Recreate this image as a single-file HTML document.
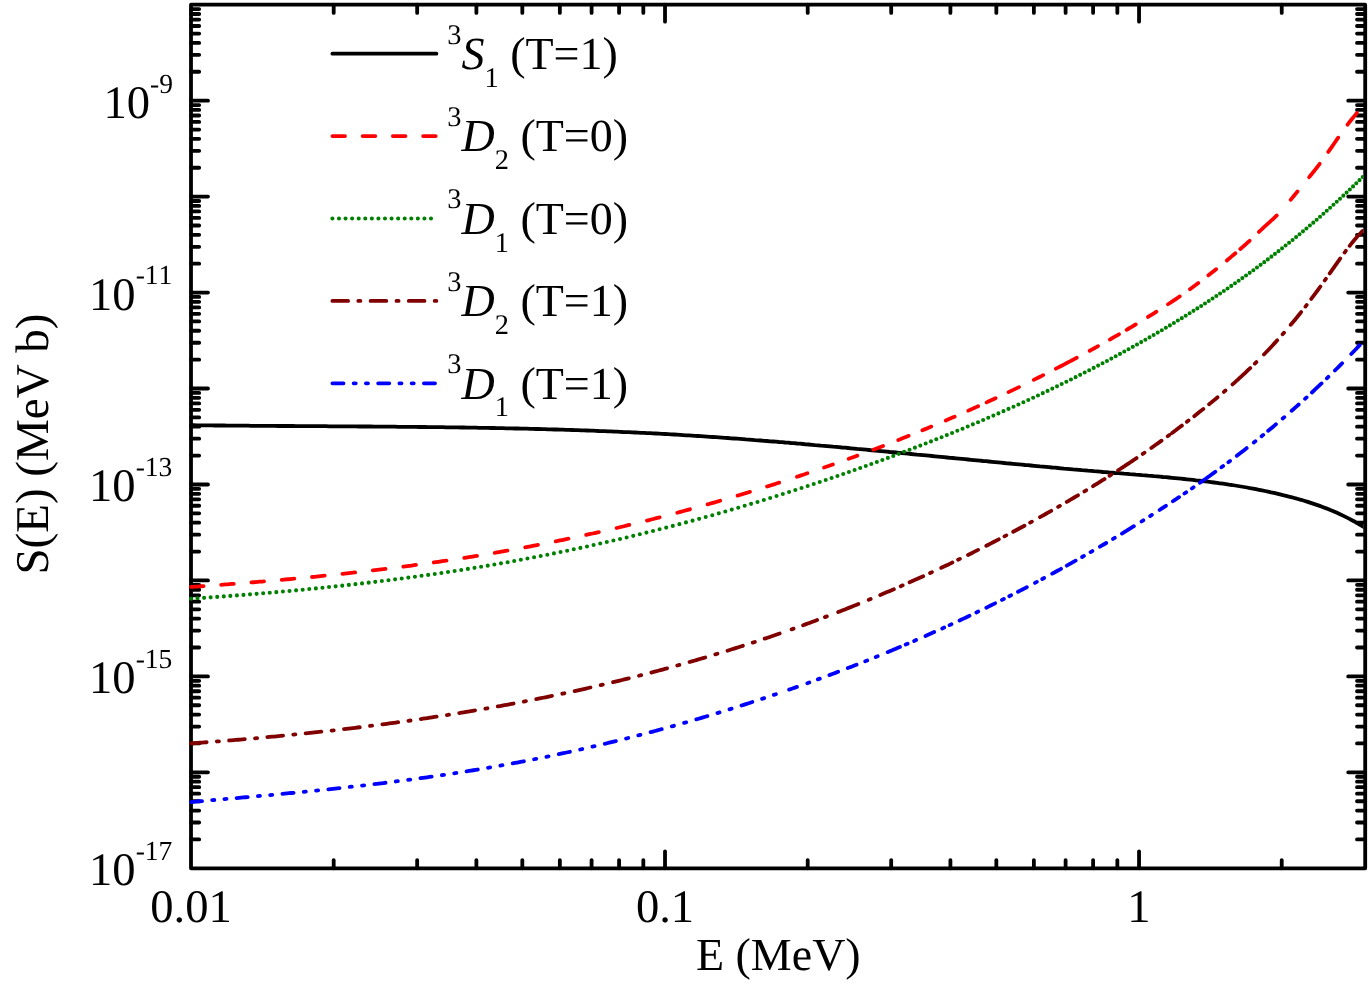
<!DOCTYPE html>
<html><head><meta charset="utf-8"><title>S(E)</title>
<style>html,body{margin:0;padding:0;background:#fff;}svg{display:block;}text{font-family:"Liberation Serif",serif;fill:#000;font-kerning:none;font-variant-ligatures:none;text-rendering:geometricPrecision;}</style></head><body>
<svg width="1369" height="984" viewBox="0 0 1369 984" style="will-change:transform">
<rect x="0" y="0" width="1369" height="984" fill="#ffffff"/>
<path d="M191.00 839.41h8.20M1365.20 839.41h-8.20M191.00 822.52h8.20M1365.20 822.52h-8.20M191.00 810.53h8.20M1365.20 810.53h-8.20M191.00 801.23h8.20M1365.20 801.23h-8.20M191.00 793.63h8.20M1365.20 793.63h-8.20M191.00 787.21h8.20M1365.20 787.21h-8.20M191.00 781.64h8.20M1365.20 781.64h-8.20M191.00 776.74h8.20M1365.20 776.74h-8.20M191.00 772.34h17.00M1365.20 772.34h-17.00M191.00 743.46h8.20M1365.20 743.46h-8.20M191.00 726.56h8.20M1365.20 726.56h-8.20M191.00 714.57h8.20M1365.20 714.57h-8.20M191.00 705.27h8.20M1365.20 705.27h-8.20M191.00 697.68h8.20M1365.20 697.68h-8.20M191.00 691.25h8.20M1365.20 691.25h-8.20M191.00 685.69h8.20M1365.20 685.69h-8.20M191.00 680.78h8.20M1365.20 680.78h-8.20M191.00 676.39h17.00M1365.20 676.39h-17.00M191.00 647.50h8.20M1365.20 647.50h-8.20M191.00 630.61h8.20M1365.20 630.61h-8.20M191.00 618.62h8.20M1365.20 618.62h-8.20M191.00 609.32h8.20M1365.20 609.32h-8.20M191.00 601.72h8.20M1365.20 601.72h-8.20M191.00 595.30h8.20M1365.20 595.30h-8.20M191.00 589.73h8.20M1365.20 589.73h-8.20M191.00 584.82h8.20M1365.20 584.82h-8.20M191.00 580.43h17.00M1365.20 580.43h-17.00M191.00 551.55h8.20M1365.20 551.55h-8.20M191.00 534.65h8.20M1365.20 534.65h-8.20M191.00 522.66h8.20M1365.20 522.66h-8.20M191.00 513.36h8.20M1365.20 513.36h-8.20M191.00 505.77h8.20M1365.20 505.77h-8.20M191.00 499.34h8.20M1365.20 499.34h-8.20M191.00 493.78h8.20M1365.20 493.78h-8.20M191.00 488.87h8.20M1365.20 488.87h-8.20M191.00 484.48h17.00M1365.20 484.48h-17.00M191.00 455.59h8.20M1365.20 455.59h-8.20M191.00 438.70h8.20M1365.20 438.70h-8.20M191.00 426.71h8.20M1365.20 426.71h-8.20M191.00 417.41h8.20M1365.20 417.41h-8.20M191.00 409.81h8.20M1365.20 409.81h-8.20M191.00 403.39h8.20M1365.20 403.39h-8.20M191.00 397.82h8.20M1365.20 397.82h-8.20M191.00 392.91h8.20M1365.20 392.91h-8.20M191.00 388.52h17.00M1365.20 388.52h-17.00M191.00 359.64h8.20M1365.20 359.64h-8.20M191.00 342.74h8.20M1365.20 342.74h-8.20M191.00 330.75h8.20M1365.20 330.75h-8.20M191.00 321.45h8.20M1365.20 321.45h-8.20M191.00 313.85h8.20M1365.20 313.85h-8.20M191.00 307.43h8.20M1365.20 307.43h-8.20M191.00 301.87h8.20M1365.20 301.87h-8.20M191.00 296.96h8.20M1365.20 296.96h-8.20M191.00 292.57h17.00M1365.20 292.57h-17.00M191.00 263.68h8.20M1365.20 263.68h-8.20M191.00 246.78h8.20M1365.20 246.78h-8.20M191.00 234.80h8.20M1365.20 234.80h-8.20M191.00 225.50h8.20M1365.20 225.50h-8.20M191.00 217.90h8.20M1365.20 217.90h-8.20M191.00 211.47h8.20M1365.20 211.47h-8.20M191.00 205.91h8.20M1365.20 205.91h-8.20M191.00 201.00h8.20M1365.20 201.00h-8.20M191.00 196.61h17.00M1365.20 196.61h-17.00M191.00 167.73h8.20M1365.20 167.73h-8.20M191.00 150.83h8.20M1365.20 150.83h-8.20M191.00 138.84h8.20M1365.20 138.84h-8.20M191.00 129.54h8.20M1365.20 129.54h-8.20M191.00 121.94h8.20M1365.20 121.94h-8.20M191.00 115.52h8.20M1365.20 115.52h-8.20M191.00 109.95h8.20M1365.20 109.95h-8.20M191.00 105.05h8.20M1365.20 105.05h-8.20M191.00 100.66h17.00M1365.20 100.66h-17.00M191.00 71.77h8.20M1365.20 71.77h-8.20M191.00 54.87h8.20M1365.20 54.87h-8.20M191.00 42.88h8.20M1365.20 42.88h-8.20M191.00 33.59h8.20M1365.20 33.59h-8.20M191.00 25.99h8.20M1365.20 25.99h-8.20M191.00 19.56h8.20M1365.20 19.56h-8.20M191.00 14.00h8.20M1365.20 14.00h-8.20M191.00 9.09h8.20M1365.20 9.09h-8.20M333.69 868.30v-8.20M333.69 4.70v8.20M417.16 868.30v-8.20M417.16 4.70v8.20M476.39 868.30v-8.20M476.39 4.70v8.20M522.32 868.30v-8.20M522.32 4.70v8.20M559.86 868.30v-8.20M559.86 4.70v8.20M591.59 868.30v-8.20M591.59 4.70v8.20M619.08 868.30v-8.20M619.08 4.70v8.20M643.33 868.30v-8.20M643.33 4.70v8.20M665.02 868.30v-17.00M665.02 4.70v17.00M807.71 868.30v-8.20M807.71 4.70v8.20M891.18 868.30v-8.20M891.18 4.70v8.20M950.41 868.30v-8.20M950.41 4.70v8.20M996.34 868.30v-8.20M996.34 4.70v8.20M1033.88 868.30v-8.20M1033.88 4.70v8.20M1065.61 868.30v-8.20M1065.61 4.70v8.20M1093.10 868.30v-8.20M1093.10 4.70v8.20M1117.35 868.30v-8.20M1117.35 4.70v8.20M1139.04 868.30v-17.00M1139.04 4.70v17.00M1281.73 868.30v-8.20M1281.73 4.70v8.20" fill="none" stroke="#000" stroke-width="3.8" stroke-linecap="round"/>
<rect x="191.00" y="4.70" width="1174.20" height="863.60" fill="none" stroke="#000" stroke-width="3.8" stroke-linejoin="round"/>
<clipPath id="c"><rect x="189.00" y="4.70" width="1174.40" height="863.60"/></clipPath>
<g clip-path="url(#c)" fill="none" stroke-linecap="round" stroke-linejoin="round">
<path d="M191.0 425.2 L194.0 425.2 L197.0 425.3 L200.0 425.3 L203.0 425.3 L206.0 425.4 L209.0 425.4 L212.0 425.4 L215.0 425.5 L218.0 425.5 L221.0 425.5 L224.0 425.5 L227.0 425.6 L230.0 425.6 L233.0 425.6 L236.0 425.6 L239.0 425.7 L242.0 425.7 L245.0 425.7 L248.0 425.7 L251.0 425.8 L254.0 425.8 L257.0 425.8 L260.0 425.8 L263.0 425.9 L266.0 425.9 L269.0 425.9 L272.0 425.9 L275.0 425.9 L278.0 426.0 L281.0 426.0 L284.0 426.0 L287.0 426.0 L290.0 426.0 L293.0 426.0 L296.0 426.1 L299.0 426.1 L302.0 426.1 L305.0 426.1 L308.0 426.1 L311.0 426.2 L314.0 426.2 L317.0 426.2 L320.0 426.2 L323.0 426.2 L326.0 426.2 L329.0 426.3 L332.0 426.3 L335.0 426.3 L338.0 426.3 L341.0 426.3 L344.0 426.4 L347.0 426.4 L350.0 426.4 L353.0 426.4 L356.0 426.4 L359.0 426.5 L362.0 426.5 L365.0 426.5 L368.0 426.5 L371.0 426.5 L374.0 426.6 L377.0 426.6 L380.0 426.6 L383.0 426.6 L386.0 426.7 L389.0 426.7 L392.0 426.7 L395.0 426.7 L398.0 426.8 L401.0 426.8 L404.0 426.8 L407.0 426.8 L410.0 426.9 L413.0 426.9 L416.0 426.9 L419.0 427.0 L422.0 427.0 L425.0 427.0 L428.0 427.1 L431.0 427.1 L434.0 427.1 L437.0 427.2 L440.0 427.2 L443.0 427.2 L446.0 427.3 L449.0 427.3 L452.0 427.4 L455.0 427.4 L458.0 427.4 L461.0 427.5 L464.0 427.5 L467.0 427.6 L470.0 427.6 L473.0 427.7 L476.0 427.7 L479.0 427.8 L482.0 427.8 L485.0 427.9 L488.0 427.9 L491.0 428.0 L494.0 428.0 L497.0 428.1 L500.0 428.1 L503.0 428.2 L506.0 428.3 L509.0 428.3 L512.0 428.4 L515.0 428.5 L518.0 428.5 L521.0 428.6 L524.0 428.7 L527.0 428.7 L530.0 428.8 L533.0 428.9 L536.0 429.0 L539.0 429.0 L542.0 429.1 L545.0 429.2 L548.0 429.3 L551.0 429.4 L554.0 429.5 L557.0 429.5 L560.0 429.6 L563.0 429.7 L566.0 429.8 L569.0 429.9 L572.0 430.0 L575.0 430.1 L578.0 430.2 L581.0 430.3 L584.0 430.4 L587.0 430.5 L590.0 430.6 L593.0 430.7 L596.0 430.8 L599.0 431.0 L602.0 431.1 L605.0 431.2 L608.0 431.3 L611.0 431.4 L614.0 431.6 L617.0 431.7 L620.0 431.8 L623.0 432.0 L626.0 432.1 L629.0 432.2 L632.0 432.4 L635.0 432.5 L638.0 432.6 L641.0 432.8 L644.0 432.9 L647.0 433.1 L650.0 433.2 L653.0 433.4 L656.0 433.5 L659.0 433.7 L662.0 433.9 L665.0 434.0 L668.0 434.2 L671.0 434.4 L674.0 434.5 L677.0 434.7 L680.0 434.9 L683.0 435.1 L686.0 435.3 L689.0 435.4 L692.0 435.6 L695.0 435.8 L698.0 436.0 L701.0 436.2 L704.0 436.4 L707.0 436.6 L710.0 436.8 L713.0 437.0 L716.0 437.2 L719.0 437.4 L722.0 437.6 L725.0 437.8 L728.0 438.0 L731.0 438.3 L734.0 438.5 L737.0 438.7 L740.0 438.9 L743.0 439.1 L746.0 439.4 L749.0 439.6 L752.0 439.8 L755.0 440.1 L758.0 440.3 L761.0 440.5 L764.0 440.8 L767.0 441.0 L770.0 441.3 L773.0 441.5 L776.0 441.7 L779.0 442.0 L782.0 442.2 L785.0 442.5 L788.0 442.7 L791.0 443.0 L794.0 443.2 L797.0 443.5 L800.0 443.7 L803.0 444.0 L806.0 444.3 L809.0 444.5 L812.0 444.8 L815.0 445.1 L818.0 445.3 L821.0 445.6 L824.0 445.8 L827.0 446.1 L830.0 446.4 L833.0 446.7 L836.0 446.9 L839.0 447.2 L842.0 447.5 L845.0 447.7 L848.0 448.0 L851.0 448.3 L854.0 448.6 L857.0 448.9 L860.0 449.1 L863.0 449.4 L866.0 449.7 L869.0 450.0 L872.0 450.3 L875.0 450.5 L878.0 450.8 L881.0 451.1 L884.0 451.4 L887.0 451.7 L890.0 452.0 L893.0 452.2 L896.0 452.5 L899.0 452.8 L902.0 453.1 L905.0 453.4 L908.0 453.7 L911.0 454.0 L914.0 454.3 L917.0 454.6 L920.0 454.8 L923.0 455.1 L926.0 455.4 L929.0 455.7 L932.0 456.0 L935.0 456.3 L938.0 456.6 L941.0 456.9 L944.0 457.2 L947.0 457.5 L950.0 457.8 L953.0 458.0 L956.0 458.3 L959.0 458.6 L962.0 458.9 L965.0 459.2 L968.0 459.5 L971.0 459.8 L974.0 460.1 L977.0 460.4 L980.0 460.7 L983.0 461.0 L986.0 461.2 L989.0 461.5 L992.0 461.8 L995.0 462.1 L998.0 462.4 L1001.0 462.7 L1004.0 463.0 L1007.0 463.3 L1010.0 463.5 L1013.0 463.8 L1016.0 464.1 L1019.0 464.4 L1022.0 464.7 L1025.0 465.0 L1028.0 465.2 L1031.0 465.5 L1034.0 465.8 L1037.0 466.1 L1040.0 466.4 L1043.0 466.6 L1046.0 466.9 L1049.0 467.2 L1052.0 467.5 L1055.0 467.7 L1058.0 468.0 L1061.0 468.3 L1064.0 468.6 L1067.0 468.8 L1070.0 469.1 L1073.0 469.4 L1076.0 469.6 L1079.0 469.9 L1082.0 470.2 L1085.0 470.4 L1088.0 470.7 L1091.0 470.9 L1094.0 471.2 L1097.0 471.4 L1100.0 471.7 L1103.0 472.0 L1106.0 472.2 L1109.0 472.5 L1112.0 472.7 L1115.0 473.0 L1118.0 473.2 L1121.0 473.4 L1124.0 473.7 L1127.0 473.9 L1130.0 474.2 L1133.0 474.4 L1136.0 474.7 L1139.0 474.9 L1142.0 475.2 L1145.0 475.4 L1148.0 475.7 L1151.0 475.9 L1154.0 476.2 L1157.0 476.4 L1160.0 476.7 L1163.0 477.0 L1166.0 477.2 L1169.0 477.5 L1172.0 477.8 L1175.0 478.1 L1178.0 478.4 L1181.0 478.7 L1184.0 479.0 L1187.0 479.3 L1190.0 479.6 L1193.0 479.9 L1196.0 480.3 L1199.0 480.6 L1202.0 481.0 L1205.0 481.3 L1208.0 481.7 L1211.0 482.1 L1214.0 482.5 L1217.0 482.9 L1220.0 483.3 L1223.0 483.7 L1226.0 484.1 L1229.0 484.6 L1232.0 485.0 L1235.0 485.5 L1238.0 486.0 L1241.0 486.5 L1244.0 487.0 L1247.0 487.5 L1250.0 488.1 L1253.0 488.6 L1256.0 489.2 L1259.0 489.8 L1262.0 490.4 L1265.0 491.0 L1268.0 491.6 L1271.0 492.3 L1274.0 492.9 L1277.0 493.6 L1280.0 494.3 L1283.0 495.1 L1286.0 495.8 L1289.0 496.6 L1292.0 497.3 L1295.0 498.2 L1298.0 499.0 L1301.0 499.8 L1304.0 500.7 L1307.0 501.6 L1310.0 502.6 L1313.0 503.6 L1316.0 504.6 L1319.0 505.6 L1322.0 506.7 L1325.0 507.9 L1328.0 509.0 L1331.0 510.3 L1334.0 511.5 L1337.0 512.8 L1340.0 514.2 L1343.0 515.6 L1346.0 517.1 L1349.0 518.6 L1352.0 520.2 L1355.0 521.8 L1358.0 523.5 L1361.0 525.3 L1364.0 527.1 L1365.0 527.7" stroke="#000000" stroke-width="3.8"/>
<path d="M191.00 586.97L193.09 586.82L195.19 586.68L197.28 586.53L199.38 586.38L201.47 586.23L203.57 586.08M221.18 584.78L223.28 584.62L225.38 584.47L227.48 584.31L229.57 584.14L231.67 583.98L233.77 583.82M251.41 582.41L253.52 582.24L255.62 582.07L257.72 581.89L259.83 581.72L261.93 581.54L264.03 581.36M281.71 579.83L283.81 579.64L285.92 579.45L288.02 579.26L290.13 579.07L292.24 578.87L294.34 578.68M312.05 576.99L314.16 576.79L316.27 576.58L318.38 576.37L320.48 576.16L322.59 575.94L324.70 575.73M342.43 573.87L344.54 573.65L346.66 573.42L348.77 573.18L350.88 572.95L352.99 572.72L355.11 572.48M372.86 570.43L374.97 570.18L377.09 569.93L379.20 569.68L381.31 569.42L383.43 569.16L385.54 568.90M403.31 566.64L405.43 566.37L407.54 566.09L409.66 565.81L411.78 565.52L413.89 565.24L416.01 564.95M433.79 562.47L435.91 562.16L438.02 561.85L440.14 561.54L442.26 561.23L444.37 560.92L446.49 560.60M464.28 557.87L466.40 557.53L468.51 557.20L470.63 556.86L472.75 556.51L474.87 556.17L476.98 555.82M494.77 552.82L496.89 552.46L499.01 552.09L501.12 551.72L503.24 551.34L505.36 550.96L507.47 550.59M525.25 547.32L527.37 546.92L529.49 546.52L531.61 546.11L533.72 545.71L535.84 545.30L537.95 544.89M555.73 541.35L557.84 540.91L559.96 540.48L562.07 540.04L564.19 539.60L566.30 539.16L568.42 538.72M586.18 534.90L588.29 534.44L590.41 533.97L592.52 533.50L594.63 533.03L596.74 532.55L598.86 532.08M616.60 527.99L618.71 527.49L620.82 526.99L622.93 526.49L625.04 525.98L627.15 525.47L629.26 524.96M646.98 520.60L649.09 520.06L651.20 519.53L653.31 518.99L655.41 518.46L657.52 517.92L659.63 517.37M677.32 512.73L679.42 512.16L681.53 511.59L683.63 511.02L685.74 510.45L687.84 509.88L689.94 509.30M707.60 504.38L709.69 503.78L711.79 503.18L713.88 502.58L715.97 501.98L718.06 501.37L720.15 500.77M737.59 495.61L739.65 494.99L741.71 494.37L743.76 493.75L745.82 493.12L747.88 492.49L749.93 491.86M767.07 486.52L769.09 485.88L771.11 485.23L773.13 484.59L775.15 483.94L777.17 483.29L779.19 482.64M797.00 476.78L799.08 476.09L801.16 475.39L803.24 474.69L805.32 473.99L807.40 473.29M824.09 467.54L826.27 466.78L828.45 466.01L830.63 465.25L832.81 464.48M848.69 458.78L850.85 458.00L853.00 457.21L855.16 456.42L857.32 455.62M873.28 449.66L875.23 448.92L877.18 448.18L879.13 447.43L881.08 446.69L883.03 445.94M898.27 439.99L900.34 439.17L902.42 438.35L904.49 437.52L906.57 436.69L908.64 435.86M922.36 430.28L924.58 429.37L926.80 428.45L929.03 427.53L931.25 426.60M945.75 420.47L947.98 419.51L950.21 418.56L952.43 417.59L954.66 416.63M968.34 410.62L970.29 409.75L972.23 408.88L974.18 408.01L976.12 407.13L978.07 406.26M986.63 402.36L988.87 401.33L991.11 400.30L993.34 399.26L995.58 398.22M1008.52 392.14L1010.61 391.14L1012.71 390.13L1014.80 389.13L1016.90 388.12L1018.99 387.11M1033.80 379.85L1035.69 378.91L1037.57 377.97L1039.45 377.03L1041.33 376.09L1043.20 375.14M1055.89 368.68L1057.98 367.60L1060.07 366.52L1062.16 365.44L1064.24 364.35L1066.33 363.26L1068.41 362.17L1070.49 361.07L1072.57 359.97L1074.65 358.87L1076.72 357.76M1089.67 350.78L1091.76 349.63L1093.86 348.48L1095.95 347.33L1098.04 346.17M1109.85 339.54L1111.68 338.51L1113.50 337.47L1115.32 336.42L1117.14 335.37L1118.96 334.32M1126.64 329.84L1128.47 328.76L1130.30 327.68L1132.12 326.59L1133.95 325.50L1135.77 324.41M1148.02 316.95L1150.12 315.64L1152.21 314.34L1154.30 313.03L1156.39 311.72M1167.99 304.28L1169.96 302.99L1171.93 301.69L1173.89 300.38L1175.84 299.06L1177.79 297.74L1179.74 296.41M1189.94 289.20L1191.62 287.99L1193.29 286.77L1194.96 285.54L1196.62 284.31L1198.28 283.07M1208.40 275.34L1210.34 273.82L1212.27 272.30L1214.20 270.77L1216.12 269.24M1226.86 260.46L1228.57 259.03L1230.27 257.61L1231.97 256.17L1233.67 254.73L1235.36 253.29M1240.34 249.00L1242.20 247.38L1244.06 245.75L1245.92 244.11L1247.76 242.46L1249.60 240.80M1258.96 231.94L1260.69 230.24L1262.45 228.57L1264.23 226.92L1266.03 225.29L1267.84 223.68L1269.65 222.06L1271.45 220.43L1273.24 218.80L1275.01 217.14L1276.76 215.45M1290.71 199.80L1292.07 198.14L1293.43 196.47L1294.79 194.80L1296.14 193.13L1297.50 191.46M1309.20 177.18L1310.72 175.30L1312.24 173.42L1313.75 171.52L1315.24 169.62L1316.73 167.72L1318.20 165.80L1319.66 163.87M1328.29 151.91L1329.71 149.88L1331.13 147.84L1332.55 145.80L1333.96 143.75L1335.37 141.71L1336.79 139.67L1338.21 137.63M1347.54 124.67L1349.04 122.69L1350.57 120.72L1352.11 118.77L1353.69 116.85L1355.29 114.94L1356.93 113.07" stroke="#ff0000" stroke-width="3.8"/>
<path d="M191.00 598.74h0.01M197.55 598.29h0.01M204.10 597.84h0.01M210.65 597.37h0.01M217.21 596.90h0.01M223.77 596.41h0.01M230.33 595.92h0.01M236.89 595.41h0.01M243.46 594.89h0.01M250.03 594.37h0.01M256.60 593.83h0.01M263.17 593.27h0.01M269.75 592.71h0.01M276.33 592.13h0.01M282.91 591.54h0.01M289.49 590.94h0.01M296.07 590.33h0.01M302.66 589.70h0.01M309.25 589.06h0.01M315.84 588.40h0.01M322.44 587.73h0.01M329.03 587.05h0.01M335.63 586.35h0.01M342.23 585.64h0.01M348.83 584.91h0.01M355.43 584.16h0.01M362.04 583.40h0.01M368.64 582.63h0.01M375.25 581.83h0.01M381.86 581.03h0.01M388.47 580.20h0.01M395.08 579.36h0.01M401.69 578.50h0.01M408.31 577.62h0.01M414.92 576.73h0.01M421.54 575.81h0.01M428.15 574.88h0.01M434.77 573.93h0.01M441.39 572.97h0.01M448.01 571.98h0.01M454.63 570.97h0.01M461.25 569.95h0.01M467.87 568.90h0.01M474.49 567.84h0.01M481.11 566.75h0.01M487.73 565.64h0.01M494.35 564.52h0.01M500.97 563.37h0.01M507.59 562.20h0.01M514.21 561.01h0.01M520.83 559.80h0.01M527.45 558.56h0.01M534.07 557.31h0.01M540.69 556.03h0.01M547.30 554.73h0.01M553.92 553.41h0.01M560.53 552.06h0.01M567.15 550.70h0.01M573.76 549.31h0.01M580.37 547.90h0.01M586.98 546.47h0.01M593.59 545.02h0.01M600.20 543.54h0.01M606.81 542.05h0.01M613.41 540.53h0.01M620.02 538.99h0.01M626.62 537.43h0.01M633.22 535.85h0.01M639.82 534.24h0.01M646.42 532.62h0.01M653.01 530.97h0.01M659.60 529.30h0.01M666.20 527.61h0.01M672.79 525.90h0.01M679.37 524.16h0.01M685.96 522.41h0.01M692.54 520.63h0.01M699.12 518.83h0.01M705.70 517.02h0.01M712.26 515.18h0.01M718.79 513.33h0.01M725.30 511.47h0.01M731.78 509.59h0.01M738.24 507.69h0.01M744.68 505.79h0.01M751.09 503.86h0.01M757.48 501.93h0.01M763.85 499.98h0.01M770.19 498.02h0.01M776.51 496.04h0.01M782.81 494.05h0.01M789.08 492.05h0.01M795.33 490.04h0.01M801.52 488.03h0.01M807.66 486.01h0.01M813.73 484.00h0.01M819.74 481.99h0.01M825.70 479.97h0.01M831.59 477.97h0.01M837.43 475.96h0.01M843.21 473.95h0.01M848.93 471.95h0.01M854.60 469.95h0.01M860.22 467.96h0.01M865.78 465.97h0.01M871.32 463.97h0.01M876.84 461.96h0.01M882.34 459.94h0.01M887.82 457.91h0.01M893.28 455.88h0.01M898.72 453.84h0.01M904.15 451.79h0.01M909.55 449.73h0.01M914.93 447.66h0.01M920.30 445.59h0.01M925.65 443.50h0.01M930.97 441.41h0.01M936.28 439.31h0.01M941.57 437.20h0.01M946.83 435.09h0.01M952.08 432.96h0.01M957.31 430.82h0.01M962.52 428.68h0.01M967.70 426.52h0.01M972.87 424.35h0.01M978.02 422.18h0.01M983.15 419.99h0.01M988.26 417.80h0.01M993.35 415.60h0.01M998.42 413.38h0.01M1003.47 411.16h0.01M1008.49 408.92h0.01M1013.48 406.69h0.01M1018.44 404.45h0.01M1023.36 402.20h0.01M1028.26 399.95h0.01M1033.13 397.69h0.01M1037.96 395.43h0.01M1042.77 393.16h0.01M1047.55 390.89h0.01M1052.29 388.61h0.01M1057.01 386.33h0.01M1061.69 384.04h0.01M1066.35 381.75h0.01M1070.97 379.46h0.01M1075.57 377.16h0.01M1080.14 374.85h0.01M1084.68 372.54h0.01M1089.19 370.23h0.01M1093.67 367.91h0.01M1098.12 365.59h0.01M1102.54 363.27h0.01M1106.94 360.93h0.01M1111.31 358.60h0.01M1115.66 356.26h0.01M1119.98 353.91h0.01M1124.27 351.56h0.01M1128.54 349.20h0.01M1132.78 346.84h0.01M1137.00 344.48h0.01M1141.20 342.11h0.01M1145.37 339.73h0.01M1149.51 337.35h0.01M1153.63 334.97h0.01M1157.73 332.58h0.01M1161.80 330.19h0.01M1165.85 327.79h0.01M1169.87 325.39h0.01M1173.87 322.98h0.01M1177.84 320.56h0.01M1181.79 318.14h0.01M1185.71 315.72h0.01M1189.61 313.29h0.01M1193.48 310.85h0.01M1197.33 308.41h0.01M1201.16 305.96h0.01M1204.96 303.51h0.01M1208.75 301.04h0.01M1212.54 298.55h0.01M1216.31 296.05h0.01M1220.06 293.53h0.01M1223.81 291.00h0.01M1227.55 288.45h0.01M1231.27 285.89h0.01M1234.98 283.31h0.01M1238.68 280.72h0.01M1242.36 278.11h0.01M1246.04 275.49h0.01M1249.70 272.85h0.01M1253.35 270.19h0.01M1256.98 267.52h0.01M1260.60 264.83h0.01M1264.21 262.13h0.01M1267.80 259.41h0.01M1271.38 256.67h0.01M1274.95 253.92h0.01M1278.51 251.16h0.01M1282.05 248.37h0.01M1285.57 245.57h0.01M1289.08 242.76h0.01M1292.58 239.93h0.01M1296.07 237.09h0.01M1299.54 234.23h0.01M1302.99 231.35h0.01M1306.43 228.46h0.01M1309.86 225.55h0.01M1313.27 222.63h0.01M1316.67 219.69h0.01M1320.05 216.74h0.01M1323.42 213.77h0.01M1326.77 210.79h0.01M1330.11 207.79h0.01M1333.44 204.78h0.01M1336.75 201.75h0.01M1340.04 198.71h0.01M1343.32 195.66h0.01M1346.59 192.59h0.01M1349.84 189.50h0.01M1353.07 186.41h0.01M1356.29 183.30h0.01M1359.50 180.17h0.01M1362.69 177.03h0.01" stroke="#008000" stroke-width="4.1"/>
<path d="M191.00 743.43L193.24 743.26L195.47 743.10L197.71 742.93L199.95 742.77L202.18 742.60L204.42 742.43L206.66 742.26M216.84 741.47L218.94 741.30M229.13 740.48L231.37 740.30L233.61 740.11L235.85 739.92L238.09 739.74L240.33 739.55L242.58 739.35L244.82 739.16M255.02 738.27L257.12 738.08M267.33 737.15L269.58 736.94L271.83 736.73L274.07 736.52L276.32 736.30L278.57 736.09L280.81 735.87L283.06 735.66M293.28 734.65L295.39 734.43M305.62 733.38L307.87 733.15L310.12 732.91L312.37 732.67L314.62 732.43L316.87 732.19L319.12 731.94L321.37 731.70M331.61 730.56L333.72 730.32M343.97 729.13L346.22 728.87L348.47 728.60L350.73 728.33L352.98 728.06L355.24 727.79L357.49 727.51L359.74 727.24M370.00 725.96L372.11 725.69M382.37 724.36L384.63 724.06L386.88 723.76L389.14 723.46L391.40 723.16L393.65 722.85L395.91 722.54L398.16 722.23M408.43 720.80L410.54 720.50M420.81 719.01L423.07 718.68L425.33 718.35L427.59 718.01L429.85 717.67L432.10 717.33L434.36 716.99L436.62 716.64M446.89 715.04L449.01 714.71M459.28 713.05L461.54 712.68L463.80 712.31L466.06 711.93L468.32 711.56L470.58 711.18L472.84 710.80L475.09 710.41M485.37 708.64L487.49 708.27M497.76 706.43L500.02 706.02L502.28 705.61L504.54 705.19L506.80 704.77L509.06 704.35L511.31 703.93L513.57 703.51M523.84 701.54L525.96 701.13M536.23 699.11L538.49 698.65L540.75 698.20L543.00 697.74L545.26 697.28L547.52 696.82L549.78 696.35L552.03 695.88M562.29 693.72L564.41 693.27M574.67 691.04L576.92 690.54L579.18 690.04L581.44 689.54L583.69 689.03L585.94 688.53L588.20 688.02L590.45 687.50M600.70 685.13L602.81 684.64M613.05 682.20L615.31 681.65L617.56 681.10L619.81 680.55L622.06 680.00L624.31 679.45L626.56 678.89L628.81 678.33M639.03 675.74L641.14 675.20M651.36 672.54L653.61 671.94L655.85 671.35L658.10 670.75L660.34 670.14L662.59 669.54L664.83 668.93L667.07 668.32M677.27 665.51L679.37 664.92M689.56 662.03L691.80 661.38L694.04 660.74L696.28 660.09L698.52 659.43L700.75 658.78L702.99 658.12L705.22 657.46M715.36 654.42L717.44 653.79M727.50 650.69L729.70 650.00L731.90 649.31L734.10 648.62L736.30 647.92L738.49 647.23L740.69 646.52L742.88 645.82M752.79 642.60L754.82 641.94M764.65 638.67L766.80 637.94L768.94 637.21L771.09 636.48L773.24 635.75L775.38 635.02L777.53 634.28L779.67 633.54M803.09 625.23L805.43 624.37L807.77 623.52L810.11 622.66L812.45 621.79L814.78 620.93L817.12 620.06M838.17 612.03L840.42 611.16L842.66 610.28L844.91 609.40L847.15 608.51L849.39 607.62L851.63 606.73L853.87 605.84L856.10 604.94L858.34 604.04M880.25 595.00L882.52 594.04L884.79 593.08L887.06 592.11L889.33 591.14L891.59 590.17L893.86 589.19M909.54 582.32L911.81 581.31L914.09 580.29L916.36 579.27L918.63 578.25L920.90 577.22L923.17 576.19M941.22 567.83L943.46 566.78L945.69 565.72L947.93 564.66L950.16 563.60L952.39 562.53M968.00 554.93L970.03 553.93L972.05 552.93L974.07 551.92L976.09 550.92L978.10 549.91M986.29 545.77L988.38 544.70L990.47 543.63L992.56 542.56L994.65 541.48L996.73 540.41L998.81 539.32M1013.18 531.76L1015.06 530.76L1016.93 529.76L1018.81 528.75L1020.68 527.74L1022.56 526.73L1024.43 525.71M1039.96 517.17L1041.85 516.12L1043.73 515.06L1045.61 514.01L1047.49 512.95L1049.37 511.89L1051.25 510.82M1066.74 501.91L1068.62 500.81L1070.49 499.71L1072.36 498.61L1074.23 497.50L1076.10 496.39L1077.97 495.28M1093.02 486.17L1094.94 484.99L1096.85 483.81L1098.77 482.62L1100.68 481.43L1102.59 480.23L1104.49 479.03M1118.09 470.34L1120.15 469.00L1122.21 467.65L1124.27 466.30L1126.32 464.95L1128.36 463.59L1130.41 462.23L1132.45 460.86L1134.49 459.49L1136.53 458.11M1151.26 447.96L1152.98 446.75L1154.70 445.53L1156.42 444.31L1158.13 443.09L1159.85 441.86L1161.56 440.64M1172.13 432.93L1174.09 431.47L1176.04 430.02L1177.99 428.56L1179.94 427.09L1181.89 425.62M1194.20 416.15L1196.03 414.71L1197.86 413.27L1199.68 411.83L1201.50 410.38L1203.32 408.93M1209.07 404.28L1210.78 402.89L1212.47 401.50L1214.17 400.10L1215.86 398.70L1217.54 397.29M1232.52 384.40L1234.32 382.80L1236.12 381.19L1237.90 379.57L1239.68 377.95L1241.46 376.32L1243.23 374.69L1244.99 373.05L1246.74 371.40L1248.49 369.74L1250.23 368.08M1263.93 354.47L1265.62 352.73L1267.30 350.98L1268.97 349.22L1270.64 347.45L1272.30 345.68L1273.95 343.90L1275.59 342.11L1277.23 340.31M1290.72 324.84L1292.23 323.04L1293.73 321.23L1295.23 319.42L1296.71 317.60L1298.19 315.77L1299.66 313.94L1301.12 312.10M1311.24 298.95L1312.56 297.18L1313.88 295.40L1315.19 293.63L1316.50 291.85L1317.80 290.06L1319.10 288.28L1320.39 286.49M1329.70 273.43L1331.02 271.55L1332.34 269.67L1333.66 267.80L1334.98 265.92L1336.30 264.04L1337.63 262.17L1338.96 260.30L1340.29 258.43M1349.66 245.83L1351.19 243.89L1352.74 241.96L1354.32 240.06L1355.91 238.17L1357.54 236.32L1359.20 234.49L1360.90 232.69L1362.63 230.93M791.61 629.35L793.59 628.64M824.92 617.12L826.88 616.38M868.73 599.80L870.67 598.99M900.74 586.20L902.66 585.36M930.05 573.04L931.95 572.16M958.06 559.79L959.94 558.88M1004.47 536.37L1006.33 535.39M1030.08 522.63L1031.92 521.62M1058.09 506.92L1059.91 505.87M1084.40 491.42L1086.20 490.34M1109.51 475.85L1111.28 474.72M1142.74 453.88L1144.46 452.69M1167.65 436.22L1169.35 434.97M1186.87 421.83L1188.53 420.54M1223.90 391.91L1225.50 390.54M1254.85 363.59L1256.35 362.12M1282.61 334.28L1283.99 332.70M1305.46 306.55L1306.74 304.89M1324.69 280.49L1325.91 278.78M1344.57 252.54L1345.83 250.86" stroke="#800000" stroke-width="3.8"/>
<path d="M191.00 802.02L193.21 801.83L195.42 801.64L197.64 801.45L199.85 801.26L202.06 801.06M212.18 800.19L214.28 800.01M224.41 799.13L226.50 798.94M236.64 798.05L238.86 797.85L241.08 797.66L243.30 797.46L245.52 797.26L247.74 797.06M257.89 796.14L259.99 795.95M270.16 795.02L272.26 794.82M282.43 793.86L284.66 793.65L286.88 793.44L289.11 793.23L291.33 793.01L293.56 792.79M303.74 791.79L305.85 791.58M316.04 790.55L318.15 790.34M328.35 789.28L330.58 789.04L332.81 788.80L335.04 788.57L337.27 788.33L339.50 788.08M349.71 786.96L351.82 786.73M362.03 785.56L364.15 785.32M374.37 784.11L376.60 783.84L378.84 783.57L381.07 783.30L383.31 783.03L385.54 782.75M395.77 781.47L397.88 781.20M408.11 779.86L410.23 779.58M420.46 778.19L422.70 777.88L424.94 777.57L427.18 777.26L429.41 776.94L431.65 776.62M441.89 775.13L444.00 774.82M454.24 773.27L456.36 772.95M466.59 771.34L468.83 770.98L471.07 770.61L473.31 770.25L475.55 769.88L477.79 769.51M488.02 767.78L490.14 767.42M500.37 765.62L502.49 765.24M512.72 763.37L514.95 762.95L517.19 762.53L519.43 762.11L521.66 761.68L523.90 761.26M534.12 759.26L536.24 758.84M546.45 756.77L548.57 756.33M558.78 754.19L561.01 753.71L563.25 753.23L565.48 752.75L567.71 752.26L569.94 751.78M580.15 749.51L582.26 749.03M592.46 746.69L594.56 746.20M604.76 743.79L606.98 743.25L609.21 742.71L611.44 742.17L613.67 741.63L615.89 741.08M626.07 738.55L628.18 738.02M638.35 735.41L640.45 734.86M650.61 732.18L652.83 731.59L655.05 730.99L657.28 730.40L659.50 729.79L661.72 729.19M671.86 726.39L673.96 725.80M684.10 722.93L686.19 722.33M696.32 719.39L698.54 718.74L700.75 718.09L702.96 717.43L705.17 716.77L707.39 716.11M717.46 713.06L719.53 712.43M729.53 709.33L731.59 708.68M741.51 705.54L743.67 704.85L745.83 704.15L747.99 703.45L750.15 702.76L752.30 702.05M762.11 698.83L764.12 698.16M773.86 694.89L775.86 694.21M789.09 689.65L791.05 688.97L793.00 688.28L794.96 687.60L796.91 686.91M829.38 675.10L831.57 674.28L833.75 673.45L835.94 672.63L838.12 671.80M847.77 668.10L849.96 667.25L852.15 666.40L854.34 665.55L856.53 664.69M887.66 652.14L889.71 651.29L891.76 650.43L893.81 649.58L895.86 648.72L897.90 647.86L899.95 646.99M925.44 635.97L927.62 635.01L929.81 634.04L931.99 633.06L934.17 632.09M959.52 620.48L961.52 619.54L963.51 618.60L965.50 617.66L967.49 616.72L969.48 615.78M986.31 607.67L988.51 606.59L990.71 605.51L992.90 604.42L995.10 603.34M1017.99 591.77L1020.20 590.63L1022.41 589.49L1024.61 588.34L1026.82 587.19M1052.17 573.68L1053.95 572.71L1055.72 571.74L1057.49 570.77L1059.27 569.80L1061.04 568.82M1066.76 565.65L1068.54 564.66L1070.32 563.66L1072.10 562.67L1073.87 561.67L1075.65 560.67M1099.94 546.68L1102.02 545.46L1104.09 544.24L1106.17 543.01M1121.92 533.56L1123.92 532.35L1125.92 531.13L1127.91 529.91L1129.90 528.69L1131.90 527.46L1133.88 526.24M1159.60 509.98L1161.18 508.95L1162.76 507.93L1164.33 506.90L1165.91 505.87M1172.88 501.27L1174.93 499.91L1176.98 498.54L1179.02 497.17M1199.96 482.79L1201.89 481.42L1203.82 480.06L1205.76 478.68L1207.68 477.31L1209.61 475.93L1211.53 474.55L1213.45 473.16L1215.36 471.77M1236.81 455.77L1238.47 454.50L1240.12 453.22L1241.77 451.95L1243.42 450.67L1245.06 449.39L1246.71 448.10M1268.16 430.81L1269.73 429.52L1271.29 428.22L1272.84 426.92L1274.40 425.61L1275.95 424.31M1291.63 410.80L1293.40 409.24L1295.16 407.67L1296.93 406.10L1298.69 404.53M1311.89 392.49L1313.51 390.99L1315.12 389.48L1316.72 387.98L1318.33 386.47L1319.93 384.95L1321.53 383.43M1334.95 370.41L1336.40 368.98L1337.85 367.55L1339.29 366.11L1340.73 364.67L1342.16 363.23M1351.22 353.99L1352.93 352.23L1354.62 350.47L1356.32 348.70L1358.01 346.93L1359.69 345.15M807.31 683.20L809.29 682.48M817.81 679.38L819.79 678.66M865.22 661.25L867.18 660.47M875.73 657.03L877.67 656.24M905.63 644.57L907.57 643.75M914.14 640.92L916.06 640.08M942.24 628.44L944.16 627.57M949.55 625.10L951.45 624.22M976.35 612.49L978.25 611.58M1001.96 599.91L1003.84 598.97M1009.26 596.23L1011.14 595.28M1034.97 582.90L1036.83 581.92M1042.27 579.02L1044.13 578.03M1082.09 557.01L1083.91 555.97M1090.59 552.13L1092.41 551.08M1113.00 538.94L1114.80 537.86M1141.51 521.49L1143.29 520.37M1150.11 516.06L1151.89 514.93M1184.43 493.51L1186.17 492.33M1191.84 488.44L1193.56 487.25M1221.46 467.31L1223.14 466.06M1228.36 462.17L1230.04 460.91M1253.78 442.50L1255.42 441.19M1261.59 436.21L1263.21 434.89M1282.70 418.55L1284.30 417.18M1305.02 398.80L1306.58 397.39M1326.85 378.33L1328.35 376.87" stroke="#0000ff" stroke-width="3.8"/>
</g>
<g fill="none" stroke-linecap="round">
<path d="M332.4 53.7H436.4" stroke="#000000" stroke-width="3.8"/>
<path d="M332.4 136.1H436.4" stroke="#ff0000" stroke-width="3.8" stroke-dasharray="12.6 17.64"/>
<path d="M332.4 218.5H436.4" stroke="#008000" stroke-width="4.1" stroke-dasharray="0.01 6.563"/>
<path d="M332.4 300.9H436.4" stroke="#800000" stroke-width="3.8" stroke-dasharray="15.7 10.2 2.1 10.2"/>
<path d="M332.4 383.3H436.4" stroke="#0000ff" stroke-width="3.8" stroke-dasharray="11.1 10.15 2.1 10.15 2.1 10.15"/>
</g>
<text x="447.3" y="68.9" font-size="46.0"><tspan font-size="28.4" dy="-25.4">3</tspan><tspan font-style="italic" dy="25.4">S</tspan><tspan font-size="28.4" dy="17.9">1</tspan><tspan dy="-17.9"> (T=1)</tspan></text>
<text x="447.3" y="151.3" font-size="46.0"><tspan font-size="28.4" dy="-25.4">3</tspan><tspan font-style="italic" dy="25.4">D</tspan><tspan font-size="28.4" dy="17.9">2</tspan><tspan dy="-17.9"> (T=0)</tspan></text>
<text x="447.3" y="233.7" font-size="46.0"><tspan font-size="28.4" dy="-25.4">3</tspan><tspan font-style="italic" dy="25.4">D</tspan><tspan font-size="28.4" dy="17.9">1</tspan><tspan dy="-17.9"> (T=0)</tspan></text>
<text x="447.3" y="316.1" font-size="46.0"><tspan font-size="28.4" dy="-25.4">3</tspan><tspan font-style="italic" dy="25.4">D</tspan><tspan font-size="28.4" dy="17.9">2</tspan><tspan dy="-17.9"> (T=1)</tspan></text>
<text x="447.3" y="398.5" font-size="46.0"><tspan font-size="28.4" dy="-25.4">3</tspan><tspan font-style="italic" dy="25.4">D</tspan><tspan font-size="28.4" dy="17.9">1</tspan><tspan dy="-17.9"> (T=1)</tspan></text>
<text x="173.0" y="117.7" font-size="46.6" text-anchor="end">10<tspan font-size="27.5" dy="-25.2">-9</tspan></text>
<text x="172.3" y="309.6" font-size="46.6" text-anchor="end">10<tspan font-size="27.5" dy="-25.2">-11</tspan></text>
<text x="172.3" y="500.9" font-size="46.6" text-anchor="end">10<tspan font-size="27.5" dy="-25.2">-13</tspan></text>
<text x="172.3" y="692.7" font-size="46.6" text-anchor="end">10<tspan font-size="27.5" dy="-25.2">-15</tspan></text>
<text x="172.3" y="884.7" font-size="46.6" text-anchor="end">10<tspan font-size="27.5" dy="-25.2">-17</tspan></text>
<text x="191.0" y="921.7" font-size="46.6" text-anchor="middle">0.01</text>
<text x="665.0" y="921.7" font-size="46.6" text-anchor="middle">0.1</text>
<text x="1139.0" y="921.7" font-size="46.6" text-anchor="middle">1</text>
<text x="778.3" y="969.8" font-size="46" text-anchor="middle">E (MeV)</text>
<text transform="translate(47.6 444.0) rotate(-90)" font-size="47" text-anchor="middle">S(E) (MeV b)</text>
</svg></body></html>
